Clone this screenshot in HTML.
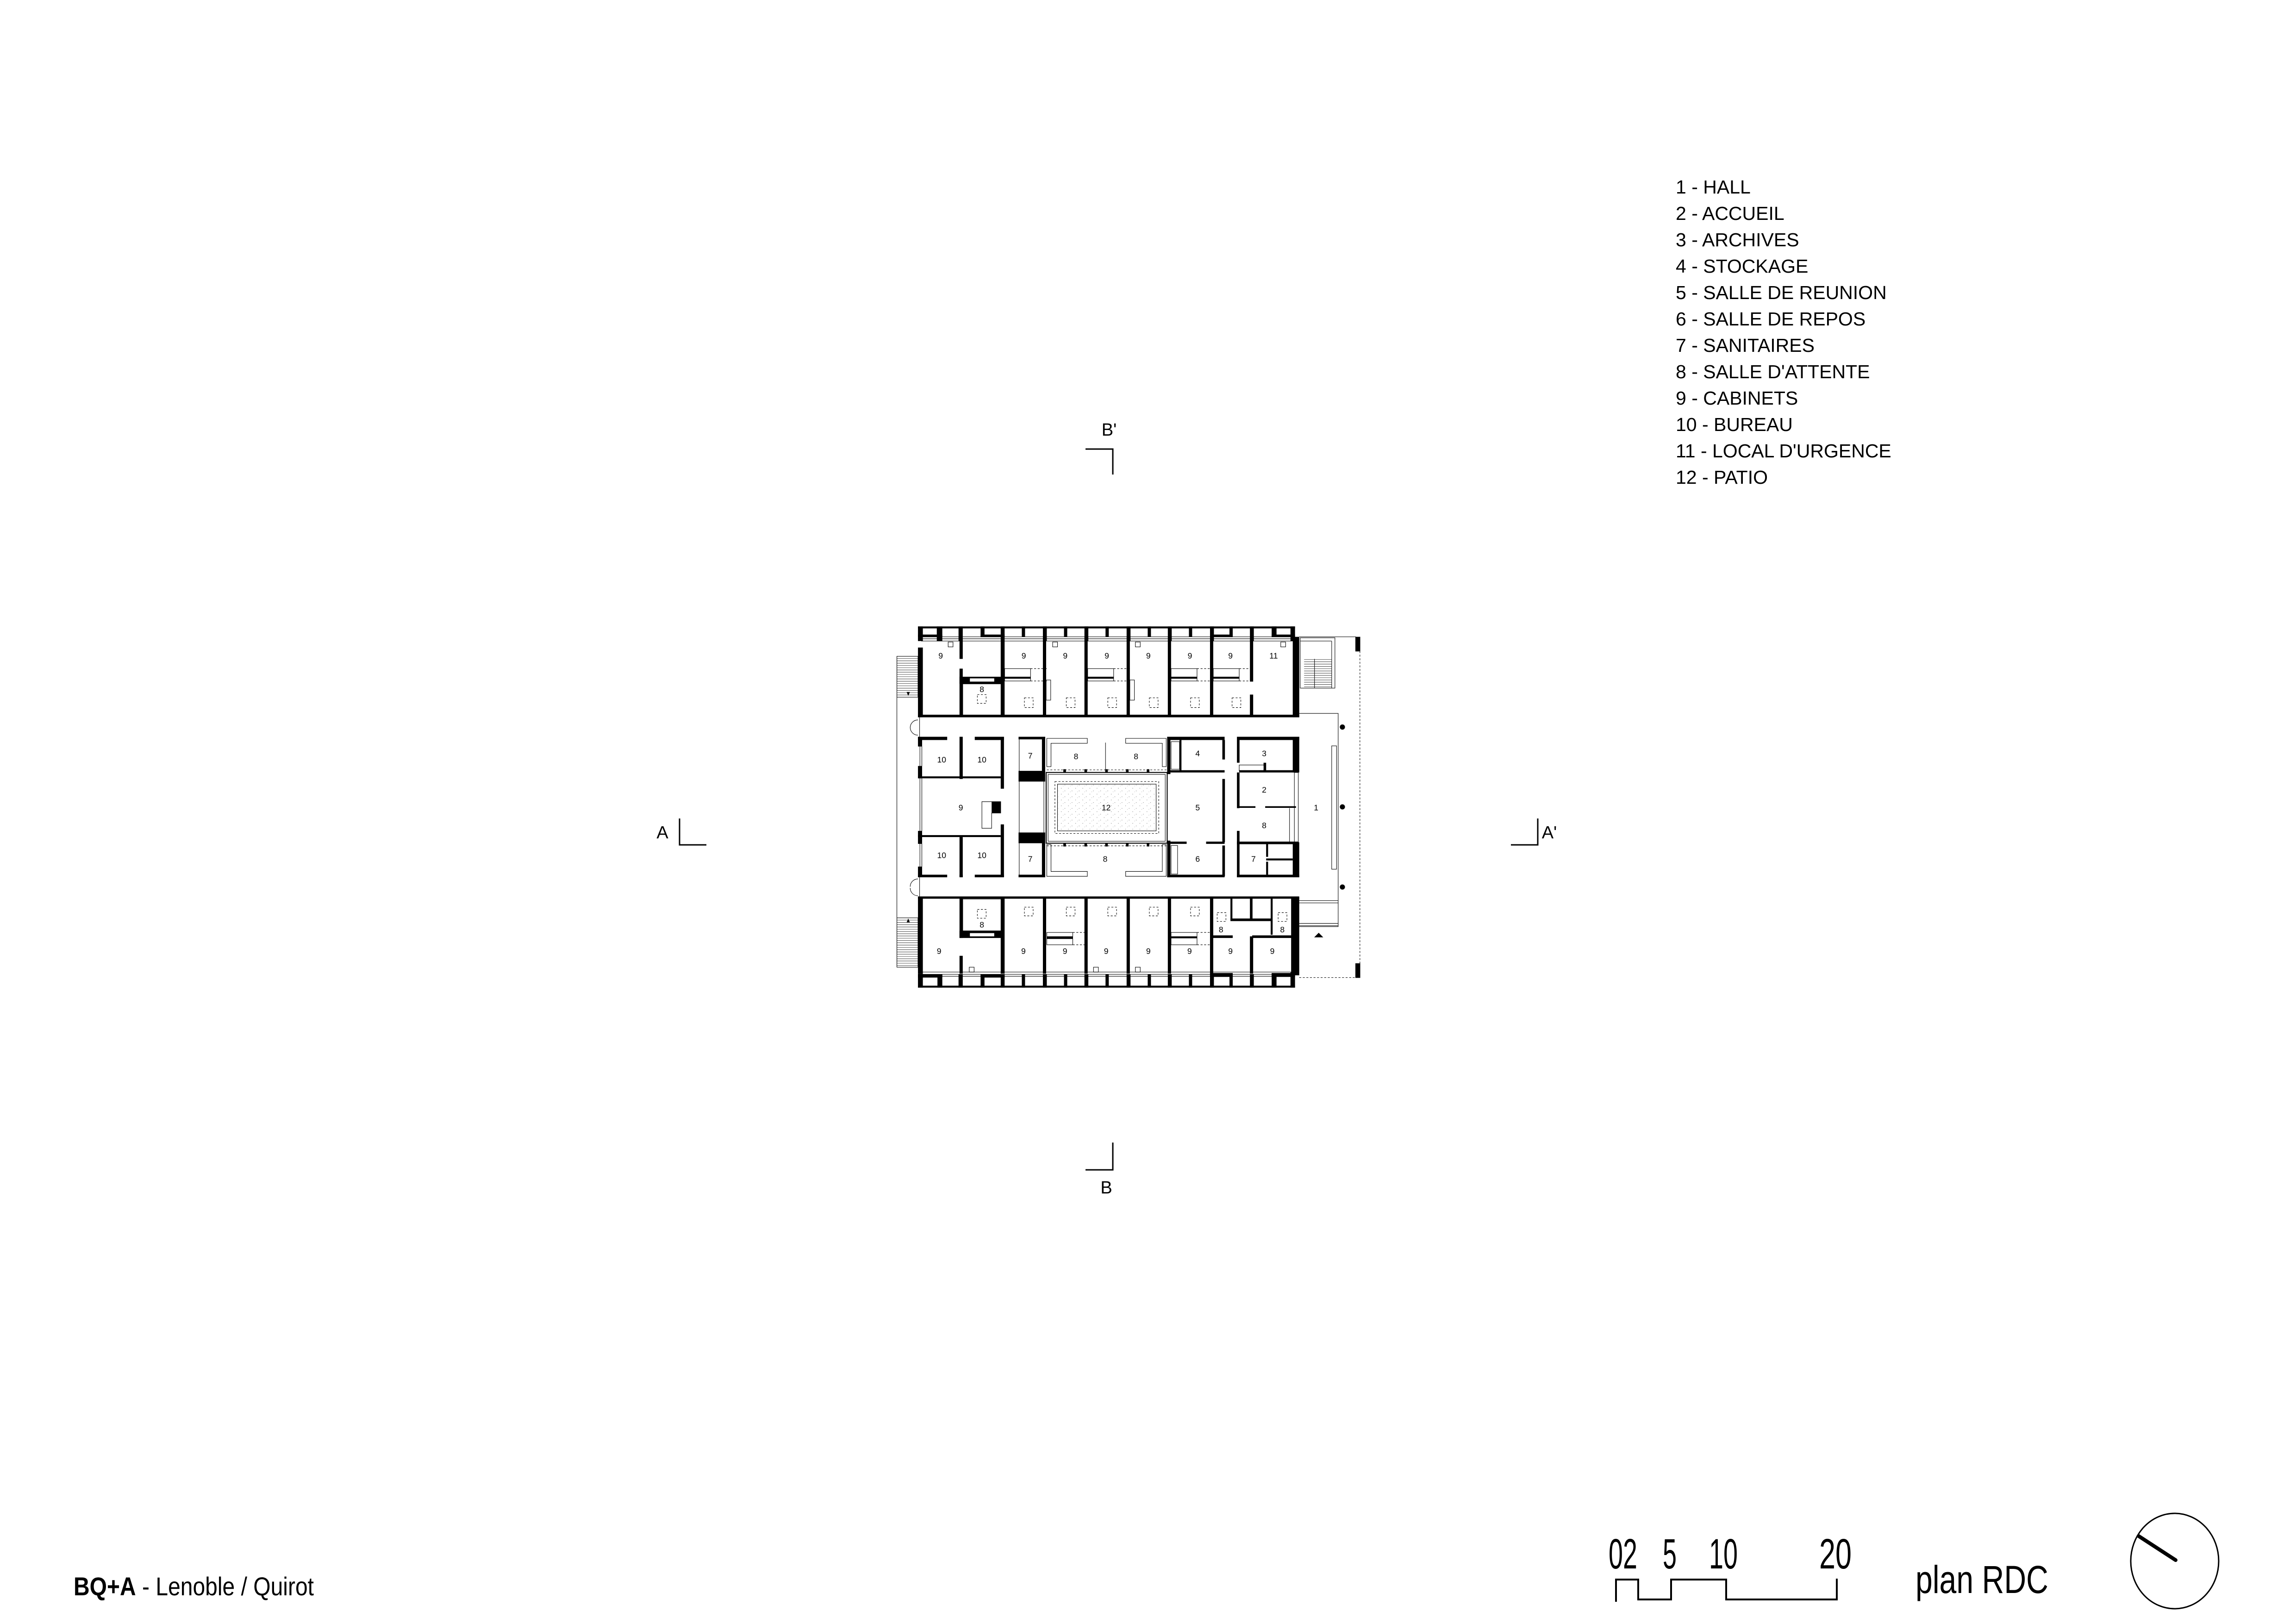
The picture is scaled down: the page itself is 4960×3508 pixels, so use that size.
<!DOCTYPE html>
<html><head><meta charset="utf-8">
<style>
html,body{margin:0;padding:0;background:#fff;}
body{width:4960px;height:3508px;position:relative;overflow:hidden;}
svg{position:absolute;}
text{font-family:"Liberation Sans",sans-serif;fill:#000;}
</style></head>
<body>
<svg style="left:0;top:0" width="4960" height="3508" viewBox="0 0 4960 3508">
  <g font-size="41">
    <text x="3620" y="418">1 - HALL</text>
    <text x="3620" y="475">2 - ACCUEIL</text>
    <text x="3620" y="532">3 - ARCHIVES</text>
    <text x="3620" y="589">4 - STOCKAGE</text>
    <text x="3620" y="646">5 - SALLE DE REUNION</text>
    <text x="3620" y="703">6 - SALLE DE REPOS</text>
    <text x="3620" y="760">7 - SANITAIRES</text>
    <text x="3620" y="817">8 - SALLE D'ATTENTE</text>
    <text x="3620" y="874">9 - CABINETS</text>
    <text x="3620" y="931">10 - BUREAU</text>
    <text x="3620" y="988">11 - LOCAL D'URGENCE</text>
    <text x="3620" y="1045">12 - PATIO</text>
  </g>
  <g stroke="#000" stroke-width="3" fill="none">
    <polyline points="2345,970 2404,970 2404,1025"/>
    <polyline points="2404,2468 2404,2527 2345,2527"/>
    <polyline points="1468,1768 1468,1825 1526,1825"/>
    <polyline points="3322,1768 3322,1825 3264,1825"/>
  </g>
  <g font-size="38" text-anchor="middle">
    <text x="2396" y="941">B'</text>
    <text x="2390" y="2578">B</text>
    <text x="1431" y="1811">A</text>
    <text x="3347" y="1811">A'</text>
  </g>
  <text x="159" y="3446" font-size="56" textLength="519" lengthAdjust="spacingAndGlyphs"><tspan font-weight="bold">BQ+A</tspan> - Lenoble / Quirot</text>
  <g font-size="92">
    <text x="3475" y="3388" textLength="62" lengthAdjust="spacingAndGlyphs">02</text>
    <text x="3592" y="3388" textLength="30" lengthAdjust="spacingAndGlyphs">5</text>
    <text x="3692" y="3388" textLength="62" lengthAdjust="spacingAndGlyphs">10</text>
    <text x="3930" y="3388" textLength="70" lengthAdjust="spacingAndGlyphs">20</text>
  </g>
  <polyline points="3491,3460 3491,3412 3539,3412 3539,3455 3610,3455 3610,3412 3729,3412 3729,3455 3968,3455 3968,3410" fill="none" stroke="#000" stroke-width="4"/>
  <text x="4138" y="3441" font-size="84" textLength="287" lengthAdjust="spacingAndGlyphs">plan RDC</text>
  <ellipse cx="4698" cy="3372" rx="95" ry="103" fill="none" stroke="#000" stroke-width="3"/>
  <line x1="4620" y1="3318" x2="4700" y2="3370" stroke="#000" stroke-width="8" stroke-linecap="round"/>
</svg>

<svg style="left:1920px;top:1220px" width="1086.5" height="1086.5" viewBox="0 0 1550 1550">
  <defs>
    <pattern id="st" width="22" height="18" patternUnits="userSpaceOnUse">
      <rect x="3" y="4" width="1.5" height="1.5" fill="#555"/>
      <rect x="14" y="12" width="1.5" height="1.5" fill="#555"/>
      <rect x="9" y="15" width="1.2" height="1.2" fill="#777"/>
    </pattern>
  </defs>
  <g stroke="#000" stroke-width="1.5" fill="none">
    <line x1="90" y1="222" x2="1252" y2="222"/>
    <line x1="90" y1="228" x2="1252" y2="228"/>
    <line x1="100" y1="235" x2="1245" y2="235"/>
    <line x1="90" y1="1262" x2="1252" y2="1262"/>
    <line x1="90" y1="1268" x2="1252" y2="1268"/>
    <line x1="100" y1="1255" x2="1245" y2="1255"/>
    <line x1="96" y1="530" x2="96" y2="962"/>
    <line x1="102" y1="530" x2="102" y2="962"/>
    <line x1="95" y1="470" x2="95" y2="530"/>
    <line x1="95" y1="962" x2="95" y2="1025"/>
    <line x1="25" y1="282" x2="25" y2="1240"/>
    <rect x="25" y="282" width="65" height="126"/>
    <rect x="25" y="1088" width="65" height="152"/>
    <rect x="1268" y="225" width="107" height="155"/>
    <line x1="1268" y1="235" x2="1365" y2="235"/>
    <line x1="1365" y1="235" x2="1365" y2="380"/>
    <line x1="1312" y1="290" x2="1312" y2="380"/>
    <polyline points="1265,458 1385,458 1385,1115 1265,1115"/>
    <rect x="1365" y="558" width="15" height="380"/>
    <line x1="1265" y1="222" x2="1440" y2="222"/>
    <line x1="1265" y1="1035" x2="1385" y2="1035"/>
    <line x1="1265" y1="1042" x2="1385" y2="1042"/>
    <line x1="1265" y1="1105" x2="1385" y2="1105"/>
    <line x1="1265" y1="1112" x2="1385" y2="1112"/>
    <rect x="357" y="320" width="80" height="38"/>
    <rect x="613" y="320" width="80" height="38"/>
    <rect x="870" y="320" width="80" height="38"/>
    <rect x="1000" y="320" width="80" height="38"/>
    <rect x="485" y="355" width="14" height="62"/>
    <rect x="743" y="355" width="14" height="62"/>
    <rect x="487" y="1133" width="80" height="38"/>
    <rect x="870" y="1133" width="80" height="38"/>
    <rect x="228" y="367" width="118" height="98"/>
    <rect x="228" y="1030" width="118" height="98"/>
    <rect x="402" y="532" width="76" height="428"/>
    <polygon points="487,622 487,535 612,535 612,550 500,550 500,622"/>
    <polygon points="855,622 855,535 730,535 730,550 843,550 843,622"/>
    <polygon points="487,862 487,960 612,960 612,945 500,945 500,862"/>
    <polygon points="855,862 855,960 730,960 730,945 843,945 843,862"/>
    <line x1="668" y1="548" x2="668" y2="635"/>
    <rect x="485" y="640" width="373" height="218" stroke-width="3"/>
    <rect x="491" y="646" width="361" height="206"/>
    <rect x="520" y="676" width="304" height="144"/>
    <polygon points="287,730 345,730 345,765 317,765 317,812 287,812" fill="#fff"/>
    <rect x="870" y="545" width="26" height="85"/>
    <rect x="870" y="865" width="20" height="88"/>
    <rect x="1080" y="617" width="80" height="18"/>
    <rect x="1250" y="640" width="12" height="215"/>
    <line x1="1235" y1="750" x2="1235" y2="855"/>
    <rect x="183" y="238" width="15" height="15"/>
    <rect x="505" y="238" width="15" height="15"/>
    <rect x="760" y="238" width="15" height="15"/>
    <rect x="1208" y="238" width="15" height="15"/>
    <rect x="248" y="1240" width="15" height="15"/>
    <rect x="631" y="1240" width="15" height="15"/>
    <rect x="760" y="1240" width="15" height="15"/>
    <path d="M90,478 A24,24 0 0 0 66,502 M90,525 A24,24 0 0 1 66,502"/>
    <path d="M90,968 A24,24 0 0 0 66,992 M90,1020 A24,24 0 0 1 66,996"/>
  </g>
  <g stroke="#000" stroke-width="1">
    <path d="M25,289H90M25,296H90M25,303H90M25,310H90M25,317H90M25,324H90M25,331H90M25,338H90M25,345H90M25,352H90M25,359H90M25,366H90M25,373H90M25,380H90M25,387H90M25,394H90M25,401H90"/>
    <path d="M25,1095H90M25,1102H90M25,1109H90M25,1116H90M25,1123H90M25,1130H90M25,1137H90M25,1144H90M25,1151H90M25,1158H90M25,1165H90M25,1172H90M25,1179H90M25,1186H90M25,1193H90M25,1200H90M25,1207H90M25,1214H90M25,1221H90M25,1228H90M25,1235H90"/>
    <path d="M1280,292H1365M1280,299H1365M1280,306H1365M1280,313H1365M1280,320H1365M1280,327H1365M1280,334H1365M1280,341H1365M1280,348H1365M1280,355H1365M1280,362H1365M1280,369H1365M1280,376H1365"/>
  </g>
  <g stroke="#000" stroke-width="1.5" stroke-dasharray="6,5" fill="none">
    <line x1="1452" y1="222" x2="1452" y2="1272"/>
    <line x1="1265" y1="1272" x2="1440" y2="1272"/>
    <rect x="512" y="668" width="320" height="160"/>
    <line x1="487" y1="632" x2="858" y2="632"/>
    <line x1="487" y1="866" x2="858" y2="866"/>
    <rect x="418" y="410" width="27" height="30"/><rect x="547" y="410" width="27" height="30"/>
    <rect x="675" y="410" width="27" height="30"/><rect x="803" y="410" width="27" height="30"/>
    <rect x="930" y="410" width="27" height="30"/><rect x="1058" y="410" width="27" height="30"/>
    <rect x="418" y="1055" width="27" height="27"/><rect x="547" y="1055" width="27" height="27"/>
    <rect x="675" y="1055" width="27" height="27"/><rect x="803" y="1055" width="27" height="27"/>
    <rect x="930" y="1055" width="27" height="27"/>
    <rect x="1012" y="1072" width="27" height="27"/><rect x="1200" y="1072" width="27" height="27"/>
    <rect x="273" y="400" width="27" height="27"/><rect x="273" y="1062" width="27" height="27"/>
    <path d="M437,320H490M437,358H490M693,320H743M693,358H743M950,320H990M950,358H990M1080,320H1113M1080,358H1113"/>
    <path d="M567,1133H603M567,1171H603M950,1133H990M950,1171H990"/>
  </g>
  <rect x="520" y="676" width="304" height="144" fill="url(#st)"/>
  <g fill="#000">
    <rect x="90" y="190" width="1162" height="6"/>
    <rect x="90" y="190" width="15" height="45"/><rect x="148" y="190" width="17" height="45"/>
    <rect x="215" y="190" width="13" height="45"/><rect x="283" y="190" width="12" height="32"/>
    <rect x="345" y="190" width="12" height="45"/><rect x="410" y="190" width="10" height="32"/>
    <rect x="475" y="190" width="12" height="45"/><rect x="540" y="190" width="10" height="32"/>
    <rect x="603" y="190" width="12" height="45"/><rect x="668" y="190" width="10" height="32"/>
    <rect x="733" y="190" width="12" height="45"/><rect x="798" y="190" width="10" height="32"/>
    <rect x="860" y="190" width="12" height="45"/><rect x="925" y="190" width="10" height="32"/>
    <rect x="990" y="190" width="12" height="45"/><rect x="1050" y="190" width="10" height="32"/>
    <rect x="1113" y="190" width="12" height="45"/><rect x="1180" y="190" width="15" height="32"/>
    <rect x="1238" y="190" width="14" height="45"/>
    <rect x="90" y="215" width="75" height="8"/><rect x="283" y="215" width="74" height="8"/>
    <rect x="990" y="215" width="70" height="8"/><rect x="1180" y="215" width="72" height="8"/>
    <rect x="90" y="1297" width="1162" height="6"/>
    <rect x="90" y="1260" width="15" height="43"/><rect x="150" y="1262" width="15" height="41"/>
    <rect x="215" y="1262" width="13" height="41"/><rect x="283" y="1262" width="12" height="41"/>
    <rect x="345" y="1262" width="12" height="41"/><rect x="410" y="1262" width="10" height="41"/>
    <rect x="475" y="1262" width="12" height="41"/><rect x="540" y="1262" width="10" height="41"/>
    <rect x="603" y="1262" width="12" height="41"/><rect x="668" y="1262" width="10" height="41"/>
    <rect x="733" y="1262" width="12" height="41"/><rect x="798" y="1262" width="10" height="41"/>
    <rect x="860" y="1262" width="12" height="41"/><rect x="925" y="1262" width="10" height="41"/>
    <rect x="990" y="1262" width="12" height="41"/><rect x="1050" y="1262" width="10" height="41"/>
    <rect x="1113" y="1262" width="12" height="41"/><rect x="1180" y="1262" width="15" height="41"/>
    <rect x="1238" y="1255" width="14" height="48"/>
    <rect x="90" y="1262" width="75" height="10"/><rect x="283" y="1262" width="74" height="10"/>
    <rect x="990" y="1258" width="70" height="12"/><rect x="1180" y="1258" width="72" height="12"/>
    <rect x="90" y="255" width="15" height="215"/>
    <rect x="345" y="235" width="12" height="233"/>
    <rect x="475" y="235" width="10" height="233"/>
    <rect x="603" y="235" width="10" height="233"/>
    <rect x="733" y="235" width="10" height="233"/>
    <rect x="860" y="235" width="10" height="233"/>
    <rect x="990" y="235" width="10" height="233"/>
    <rect x="1113" y="235" width="10" height="125"/>
    <rect x="1113" y="400" width="10" height="68"/>
    <rect x="218" y="235" width="10" height="55"/>
    <rect x="218" y="320" width="10" height="148"/>
    <rect x="218" y="345" width="132" height="22"/>
    <rect x="1245" y="222" width="20" height="248"/>
    <rect x="90" y="462" width="1175" height="8"/>
    <rect x="357" y="345" width="80" height="6"/><rect x="613" y="345" width="80" height="6"/>
    <rect x="870" y="345" width="80" height="6"/><rect x="1000" y="345" width="80" height="6"/>
    <rect x="90" y="530" width="90" height="10"/>
    <rect x="218" y="530" width="10" height="10"/>
    <rect x="265" y="530" width="90" height="10"/>
    <rect x="218" y="540" width="10" height="120"/>
    <rect x="90" y="652" width="255" height="6"/>
    <rect x="345" y="530" width="10" height="160"/>
    <rect x="345" y="800" width="10" height="162"/>
    <rect x="90" y="833" width="255" height="6"/>
    <rect x="218" y="839" width="10" height="123"/>
    <rect x="90" y="955" width="90" height="8"/>
    <rect x="218" y="955" width="10" height="8"/>
    <rect x="265" y="955" width="90" height="8"/>
    <rect x="90" y="530" width="12" height="30"/><rect x="90" y="620" width="12" height="38"/>
    <rect x="90" y="820" width="12" height="40"/><rect x="90" y="930" width="12" height="32"/>
    <rect x="317" y="730" width="28" height="35"/>
    <rect x="400" y="530" width="82" height="8"/>
    <rect x="400" y="635" width="82" height="33"/>
    <rect x="400" y="825" width="82" height="33"/>
    <rect x="400" y="955" width="82" height="8"/>
    <rect x="472" y="530" width="10" height="110"/>
    <rect x="472" y="858" width="10" height="105"/>
    <rect x="538" y="630" width="8" height="10"/><rect x="603" y="630" width="8" height="10"/>
    <rect x="667" y="630" width="8" height="10"/><rect x="731" y="630" width="8" height="10"/>
    <rect x="795" y="630" width="8" height="10"/>
    <rect x="538" y="858" width="8" height="10"/><rect x="603" y="858" width="8" height="10"/>
    <rect x="667" y="858" width="8" height="10"/><rect x="731" y="858" width="8" height="10"/>
    <rect x="795" y="858" width="8" height="10"/>
    <rect x="858" y="530" width="177" height="10"/>
    <rect x="858" y="530" width="10" height="115"/>
    <rect x="858" y="850" width="10" height="113"/>
    <rect x="896" y="540" width="6" height="95"/>
    <rect x="868" y="633" width="167" height="7"/>
    <rect x="868" y="853" width="50" height="7"/><rect x="978" y="853" width="57" height="7"/>
    <rect x="858" y="955" width="177" height="8"/>
    <rect x="1028" y="540" width="8" height="60"/>
    <rect x="1028" y="660" width="8" height="195"/>
    <rect x="1028" y="865" width="8" height="95"/>
    <rect x="1073" y="530" width="192" height="10"/>
    <rect x="1073" y="540" width="8" height="70"/>
    <rect x="1073" y="640" width="8" height="110"/>
    <rect x="1073" y="820" width="8" height="143"/>
    <rect x="1155" y="610" width="8" height="25"/>
    <rect x="1080" y="633" width="175" height="7"/>
    <rect x="1080" y="744" width="50" height="5"/><rect x="1160" y="744" width="95" height="5"/>
    <rect x="1073" y="853" width="190" height="8"/>
    <rect x="1073" y="955" width="192" height="8"/>
    <rect x="1245" y="530" width="20" height="110"/>
    <rect x="1245" y="855" width="20" height="108"/>
    <rect x="1163" y="860" width="6" height="40"/><rect x="1163" y="915" width="6" height="40"/>
    <rect x="1163" y="905" width="82" height="6"/>
    <rect x="90" y="1022" width="1175" height="7"/>
    <rect x="90" y="1025" width="15" height="235"/>
    <rect x="345" y="1025" width="12" height="235"/>
    <rect x="475" y="1025" width="10" height="235"/>
    <rect x="603" y="1025" width="10" height="235"/>
    <rect x="733" y="1025" width="10" height="235"/>
    <rect x="860" y="1025" width="10" height="235"/>
    <rect x="990" y="1025" width="10" height="235"/>
    <rect x="1113" y="1145" width="10" height="115"/>
    <rect x="1240" y="1025" width="25" height="240"/>
    <rect x="218" y="1025" width="10" height="125"/>
    <rect x="218" y="1128" width="132" height="22"/>
    <rect x="218" y="1205" width="10" height="55"/>
    <rect x="487" y="1145" width="80" height="8"/><rect x="870" y="1145" width="80" height="6"/>
    <rect x="1053" y="1025" width="6" height="70"/>
    <rect x="1113" y="1025" width="8" height="70"/>
    <rect x="1177" y="1025" width="6" height="115"/>
    <rect x="1053" y="1090" width="127" height="8"/>
    <rect x="995" y="1142" width="65" height="8"/><rect x="1120" y="1142" width="125" height="8"/>
    <rect x="1438" y="222" width="15" height="45"/>
    <rect x="1438" y="1228" width="15" height="45"/>
    <circle cx="1398" cy="500" r="8"/><circle cx="1398" cy="746" r="8"/><circle cx="1398" cy="993" r="8"/>
    <polygon points="1311,1148 1325,1134 1339,1148"/>
    <polygon points="55,392 65,392 60,404"/>
    <polygon points="55,1102 65,1102 60,1090"/>
  </g>
  <g fill="#fff">
    <rect x="250" y="350" width="75" height="10"/>
    <rect x="250" y="1135" width="75" height="10"/>
    <rect x="1085" y="620" width="70" height="10"/>
  </g>
  <g font-size="25" text-anchor="middle">
    <text x="160" y="289">9</text><text x="416" y="289">9</text><text x="544" y="289">9</text>
    <text x="672" y="289">9</text><text x="800" y="289">9</text><text x="928" y="289">9</text>
    <text x="1053" y="289">9</text><text x="1186" y="289">11</text>
    <text x="287" y="392">8</text>
    <text x="163" y="609">10</text><text x="287" y="609">10</text>
    <text x="436" y="597">7</text><text x="577" y="599">8</text><text x="762" y="599">8</text>
    <text x="952" y="590">4</text><text x="1157" y="590">3</text>
    <text x="1157" y="702">2</text>
    <text x="222" y="757">9</text><text x="670" y="757">12</text><text x="952" y="757">5</text>
    <text x="1317" y="757">1</text><text x="1157" y="812">8</text>
    <text x="163" y="904">10</text><text x="287" y="904">10</text>
    <text x="436" y="915">7</text><text x="667" y="915">8</text><text x="952" y="915">6</text>
    <text x="1124" y="915">7</text>
    <text x="287" y="1118">8</text><text x="1024" y="1133">8</text><text x="1213" y="1133">8</text>
    <text x="155" y="1199">9</text><text x="415" y="1199">9</text><text x="543" y="1199">9</text>
    <text x="670" y="1199">9</text><text x="800" y="1199">9</text><text x="927" y="1199">9</text>
    <text x="1053" y="1199">9</text><text x="1182" y="1199">9</text>
  </g>
</svg>
</body></html>
